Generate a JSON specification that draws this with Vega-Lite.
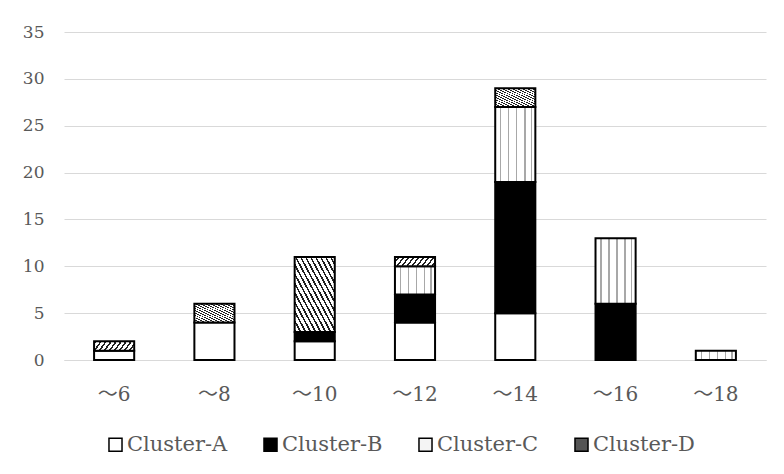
{
  "$schema": "https://vega.github.io/schema/vega-lite/v6.json",
  "width": 702,
  "height": 328,
  "autosize": {"type": "none"},
  "padding": {"left": 64, "top": 32, "right": 18, "bottom": 114},
  "background": "white",
  "config": {
    "font": "DejaVu Serif, Noto Sans CJK JP",
    "view": {"stroke": null}
  },
  "data": {
    "values": [
      {"range": "～6", "cluster": "Cluster-A", "count": 1},
      {"range": "～6", "cluster": "Cluster-D", "count": 1},
      {"range": "～8", "cluster": "Cluster-A", "count": 4},
      {"range": "～8", "cluster": "Cluster-D", "count": 2},
      {"range": "～10", "cluster": "Cluster-A", "count": 2},
      {"range": "～10", "cluster": "Cluster-B", "count": 1},
      {"range": "～10", "cluster": "Cluster-D", "count": 8},
      {"range": "～12", "cluster": "Cluster-A", "count": 4},
      {"range": "～12", "cluster": "Cluster-B", "count": 3},
      {"range": "～12", "cluster": "Cluster-C", "count": 3},
      {"range": "～12", "cluster": "Cluster-D", "count": 1},
      {"range": "～14", "cluster": "Cluster-A", "count": 5},
      {"range": "～14", "cluster": "Cluster-B", "count": 14},
      {"range": "～14", "cluster": "Cluster-C", "count": 8},
      {"range": "～14", "cluster": "Cluster-D", "count": 2},
      {"range": "～16", "cluster": "Cluster-B", "count": 6},
      {"range": "～16", "cluster": "Cluster-C", "count": 7},
      {"range": "～18", "cluster": "Cluster-C", "count": 1}
    ]
  },
  "mark": {"type": "bar", "stroke": "black", "strokeWidth": 2, "width": {"band": 0.4}},
  "encoding": {
    "x": {
      "field": "range",
      "type": "nominal",
      "sort": ["～6", "～8", "～10", "～12", "～14", "～16", "～18"],
      "scale": {"paddingInner": 0, "paddingOuter": 0},
      "axis": {
        "title": null,
        "labelAngle": 0,
        "labelFontSize": 20,
        "labelColor": "#595959",
        "labelPadding": 24,
        "domain": true,
        "domainColor": "#d9d9d9",
        "ticks": false,
        "grid": false
      }
    },
    "y": {
      "field": "count",
      "type": "quantitative",
      "stack": "zero",
      "scale": {"domain": [0, 35], "nice": false},
      "axis": {
        "title": null,
        "values": [0, 5, 10, 15, 20, 25, 30, 35],
        "labelFontSize": 17,
        "labelColor": "#595959",
        "labelPadding": 20,
        "domain": false,
        "ticks": false,
        "gridColor": "#d9d9d9",
        "gridWidth": 1
      }
    },
    "color": {
      "condition": [
        {"test": "datum.cluster === 'Cluster-C'", "value": {"gradient": "linear", "x1": 0, "y1": 0, "x2": 1, "y2": 0, "stops": [
            {"offset": 0, "color": "#ffffff"}, {"offset": 0.12, "color": "#ffffff"}, {"offset": 0.12, "color": "#a8a8a8"}, {"offset": 0.155, "color": "#a8a8a8"}, {"offset": 0.155, "color": "#ffffff"},
            {"offset": 0.32, "color": "#ffffff"}, {"offset": 0.32, "color": "#a8a8a8"}, {"offset": 0.355, "color": "#a8a8a8"}, {"offset": 0.355, "color": "#ffffff"},
            {"offset": 0.52, "color": "#ffffff"}, {"offset": 0.52, "color": "#a8a8a8"}, {"offset": 0.555, "color": "#a8a8a8"}, {"offset": 0.555, "color": "#ffffff"},
            {"offset": 0.72, "color": "#ffffff"}, {"offset": 0.72, "color": "#a8a8a8"}, {"offset": 0.755, "color": "#a8a8a8"}, {"offset": 0.755, "color": "#ffffff"},
            {"offset": 0.88, "color": "#ffffff"}, {"offset": 0.88, "color": "#a8a8a8"}, {"offset": 0.915, "color": "#a8a8a8"}, {"offset": 0.915, "color": "#ffffff"},
            {"offset": 1, "color": "#ffffff"}
          ]}},
        {"test": "datum.cluster === 'Cluster-D'", "value": {"gradient": "linear", "x1": 1, "y1": 0, "x2": 0, "y2": 1, "stops": [
            {"offset": 0, "color": "#ffffff"}, {"offset": 0.04, "color": "#ffffff"}, {"offset": 0.04, "color": "#202020"}, {"offset": 0.0625, "color": "#202020"},
            {"offset": 0.0625, "color": "#ffffff"}, {"offset": 0.1025, "color": "#ffffff"}, {"offset": 0.1025, "color": "#202020"}, {"offset": 0.125, "color": "#202020"},
            {"offset": 0.125, "color": "#ffffff"}, {"offset": 0.165, "color": "#ffffff"}, {"offset": 0.165, "color": "#202020"}, {"offset": 0.1875, "color": "#202020"},
            {"offset": 0.1875, "color": "#ffffff"}, {"offset": 0.2275, "color": "#ffffff"}, {"offset": 0.2275, "color": "#202020"}, {"offset": 0.25, "color": "#202020"},
            {"offset": 0.25, "color": "#ffffff"}, {"offset": 0.29, "color": "#ffffff"}, {"offset": 0.29, "color": "#202020"}, {"offset": 0.3125, "color": "#202020"},
            {"offset": 0.3125, "color": "#ffffff"}, {"offset": 0.3525, "color": "#ffffff"}, {"offset": 0.3525, "color": "#202020"}, {"offset": 0.375, "color": "#202020"},
            {"offset": 0.375, "color": "#ffffff"}, {"offset": 0.415, "color": "#ffffff"}, {"offset": 0.415, "color": "#202020"}, {"offset": 0.4375, "color": "#202020"},
            {"offset": 0.4375, "color": "#ffffff"}, {"offset": 0.4775, "color": "#ffffff"}, {"offset": 0.4775, "color": "#202020"}, {"offset": 0.5, "color": "#202020"},
            {"offset": 0.5, "color": "#ffffff"}, {"offset": 0.54, "color": "#ffffff"}, {"offset": 0.54, "color": "#202020"}, {"offset": 0.5625, "color": "#202020"},
            {"offset": 0.5625, "color": "#ffffff"}, {"offset": 0.6025, "color": "#ffffff"}, {"offset": 0.6025, "color": "#202020"}, {"offset": 0.625, "color": "#202020"},
            {"offset": 0.625, "color": "#ffffff"}, {"offset": 0.665, "color": "#ffffff"}, {"offset": 0.665, "color": "#202020"}, {"offset": 0.6875, "color": "#202020"},
            {"offset": 0.6875, "color": "#ffffff"}, {"offset": 0.7275, "color": "#ffffff"}, {"offset": 0.7275, "color": "#202020"}, {"offset": 0.75, "color": "#202020"},
            {"offset": 0.75, "color": "#ffffff"}, {"offset": 0.79, "color": "#ffffff"}, {"offset": 0.79, "color": "#202020"}, {"offset": 0.8125, "color": "#202020"},
            {"offset": 0.8125, "color": "#ffffff"}, {"offset": 0.8525, "color": "#ffffff"}, {"offset": 0.8525, "color": "#202020"}, {"offset": 0.875, "color": "#202020"},
            {"offset": 0.875, "color": "#ffffff"}, {"offset": 0.915, "color": "#ffffff"}, {"offset": 0.915, "color": "#202020"}, {"offset": 0.9375, "color": "#202020"},
            {"offset": 0.9375, "color": "#ffffff"}, {"offset": 0.9775, "color": "#ffffff"}, {"offset": 0.9775, "color": "#202020"}, {"offset": 1, "color": "#202020"}
          ]}}
      ],
      "field": "cluster",
      "type": "nominal",
      "scale": {
        "domain": ["Cluster-A", "Cluster-B", "Cluster-C", "Cluster-D"],
        "range": ["#ffffff", "#000000", "#f4f4f4", "#555555"]
      },
      "legend": {
        "title": null,
        "orient": "none",
        "legendX": 41,
        "legendY": 402,
        "padding": 0,
        "direction": "horizontal",
        "symbolType": "square",
        "symbolSize": 170,
        "symbolStrokeColor": "black",
        "symbolStrokeWidth": 1.5,
        "symbolOpacity": 1,
        "labelFontSize": 21,
        "labelColor": "#595959",
        "labelOffset": 1,
        "columnPadding": 32,
        "encode": {
          "symbols": {
            "update": {
              "stroke": {"value": "black"},
              "strokeWidth": {"value": 1.5}
            }
          }
        }
      }
    },
    "order": {"field": "cluster", "sort": "ascending"}
  }
}
